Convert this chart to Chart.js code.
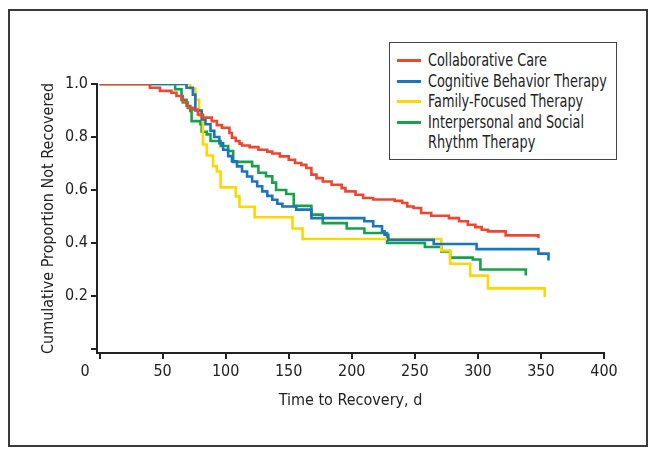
<!DOCTYPE html>
<html lang="en">
<head>
    <meta charset="UTF-8">
    <title>Time to Recovery</title>
    <style>
        body { margin: 0; background: #fff; }
        #wrap { position: relative; width: 654px; height: 456px; }
        #frame {
            position: absolute; left: 8px; top: 9px; width: 640px; height: 438px;
            box-sizing: border-box; border: 2px solid #3a3a3a;
        }
        canvas { position: absolute; left: 0; top: 0; }
        #legend {
            position: absolute; left: 389px; top: 42px; width: 228px; height: 118px;
            box-sizing: border-box; border: 1.5px solid #444; background: #fff;
            font-family: "Liberation Sans Narrow", "DejaVu Sans Condensed", "Roboto Condensed", Roboto, sans-serif;
            font-size: 17px; color: #222; padding-top: 7px;
        }
        .item { position: relative; padding-left: 38px; line-height: 20.5px; white-space: pre; }
        .item .txt { display: inline-block; transform: scaleX(0.84); transform-origin: left center; }
        .swatch { position: absolute; left: 7px; top: 9px; width: 24px; height: 3px; }
    </style>
</head>
<body>
<div id="wrap">
    <div id="frame"></div>
    <canvas id="chart" width="654" height="456"></canvas>
    <div id="legend"></div>
</div>

<script src="https://cdn.jsdelivr.net/npm/chart.js"></script>
<script>
    // Kaplan-Meier curves (day, proportion not recovered)
    const seriesNames = ["Collaborative Care", "Cognitive Behavior Therapy", "Family-Focused Therapy", "Interpersonal and Social\nRhythm Therapy"];
    const seriesColors = ["#ef4630", "#1a74c0", "#fdd800", "#17a24a"];

    const ccDays = [0, 40, 48, 57, 61, 66, 70, 74, 78, 82, 89, 93, 97, 103, 105, 108, 111, 113, 119, 126, 133, 137, 143, 150, 155, 160, 164, 168, 172, 177, 184, 192, 195, 203, 209, 217, 234, 240, 244, 249, 255, 263, 277, 285, 292, 298, 303, 308, 322, 348];
    const ccValues = [1.0, 0.986, 0.974, 0.967, 0.955, 0.93, 0.91, 0.904, 0.885, 0.873, 0.86, 0.845, 0.835, 0.815, 0.797, 0.785, 0.775, 0.768, 0.762, 0.752, 0.745, 0.738, 0.727, 0.714, 0.702, 0.695, 0.683, 0.658, 0.645, 0.632, 0.62, 0.607, 0.595, 0.582, 0.57, 0.564, 0.559, 0.551, 0.538, 0.532, 0.513, 0.503, 0.494, 0.482, 0.469, 0.46, 0.45, 0.444, 0.429, 0.419];

    const cbtDays = [0, 69, 74, 76, 81, 84, 88, 91, 95, 98, 102, 105, 109, 113, 117, 121, 125, 129, 133, 137, 141, 145, 156, 168, 210, 217, 224, 226, 229, 265, 299, 348, 356];
    const cbtValues = [1.0, 0.986, 0.96, 0.9, 0.866, 0.848, 0.823, 0.80, 0.777, 0.752, 0.728, 0.708, 0.689, 0.67, 0.651, 0.632, 0.614, 0.595, 0.578, 0.563, 0.548, 0.538, 0.526, 0.494, 0.482, 0.463, 0.444, 0.431, 0.412, 0.396, 0.377, 0.36, 0.334];

    const fftDays = [0, 72, 76, 79, 82, 85, 90, 93, 96, 108, 111, 123, 153, 161, 271, 278, 294, 308, 353];
    const fftValues = [1.0, 0.983, 0.94, 0.88, 0.772, 0.73, 0.69, 0.67, 0.61, 0.576, 0.537, 0.497, 0.455, 0.415, 0.372, 0.322, 0.277, 0.229, 0.196];

    const ipsrtDays = [0, 60, 65, 69, 72, 73, 80, 81, 85, 88, 96, 102, 106, 121, 126, 132, 137, 140, 148, 154, 168, 177, 196, 210, 228, 258, 271, 278, 296, 302, 338];
    const ipsrtValues = [1.0, 0.98, 0.94, 0.917, 0.898, 0.86, 0.848, 0.82, 0.81, 0.785, 0.766, 0.747, 0.706, 0.69, 0.665, 0.652, 0.628, 0.6, 0.585, 0.54, 0.507, 0.475, 0.455, 0.438, 0.4, 0.385, 0.368, 0.345, 0.338, 0.30, 0.277];

    const xTicks = [0, 50, 100, 150, 200, 250, 300, 350, 400];
    const yTicks = [0, 0.2, 0.4, 0.6, 0.8, 1.0];

    const allDays = [ccDays, cbtDays, fftDays, ipsrtDays];
    const allValues = [ccValues, cbtValues, fftValues, ipsrtValues];

    const fontFamily = '"Liberation Sans Narrow", "DejaVu Sans Condensed", "Roboto Condensed", Roboto, sans-serif';
    const ink = "#222";

    const datasets = seriesNames.map((name, i) => ({
        label: name,
        data: allDays[i].map((d, j) => ({ x: d, y: allValues[i][j] })),
        borderColor: seriesColors[i],
        borderWidth: 2.6,
        pointRadius: 0,
        stepped: true,
        fill: false
    }));

    new Chart(document.getElementById("chart"), {
        type: "line",
        data: { datasets: datasets },
        options: {
            responsive: false,
            animation: false,
            layout: { padding: { left: 35, right: 50, top: 84, bottom: 42 } },
            plugins: { legend: { display: false }, tooltip: { enabled: false } },
            scales: {
                x: {
                    type: "linear",
                    min: -2,
                    max: 400,
                    afterFit: s => { s.height = 61; },
                    afterBuildTicks: s => { s.ticks = xTicks.map(v => ({ value: v })); },
                    ticks: {
                        color: ink, font: { family: fontFamily, size: 16 }, padding: 3, maxRotation: 0,
                        // the "0" sits a little left of its tick in the original
                        callback: v => v === 0 ? "0\u2003\u2003" : String(v)
                    },
                    grid: { drawOnChartArea: false, drawTicks: true, tickLength: 6, color: ink, lineWidth: 2 },
                    border: { display: true, color: ink, width: 2 },
                    title: { display: true, text: "Time to Recovery, d", color: ink, font: { family: fontFamily, size: 16 }, padding: { top: 4, bottom: 4 } }
                },
                y: {
                    type: "linear",
                    min: -0.015,
                    max: 1.0,
                    afterFit: s => { s.width = 62; },
                    afterBuildTicks: s => { s.ticks = yTicks.map(v => ({ value: v })); },
                    ticks: {
                        color: ink, font: { family: fontFamily, size: 16 }, padding: 3,
                        callback: v => v === 0 ? "" : v.toFixed(1)
                    },
                    grid: { drawOnChartArea: false, drawTicks: true, tickLength: 6, color: ink, lineWidth: 2 },
                    border: { display: true, color: ink, width: 2 },
                    title: { display: true, text: "Cumulative Proportion Not Recovered", color: ink, font: { family: fontFamily, size: 16 }, padding: { top: 4, bottom: 4 } }
                }
            }
        }
    });

    // legend box inside the plot, built from the series names
    const legend = document.getElementById("legend");
    seriesNames.forEach((name, i) => {
        const item = document.createElement("div");
        item.className = "item";
        item.innerHTML = `<span class="swatch" style="background:${seriesColors[i]}"></span>`;
        const txt = document.createElement("span");
        txt.className = "txt";
        txt.textContent = name;
        item.appendChild(txt);
        legend.appendChild(item);
    });
</script>
</body>
</html>
